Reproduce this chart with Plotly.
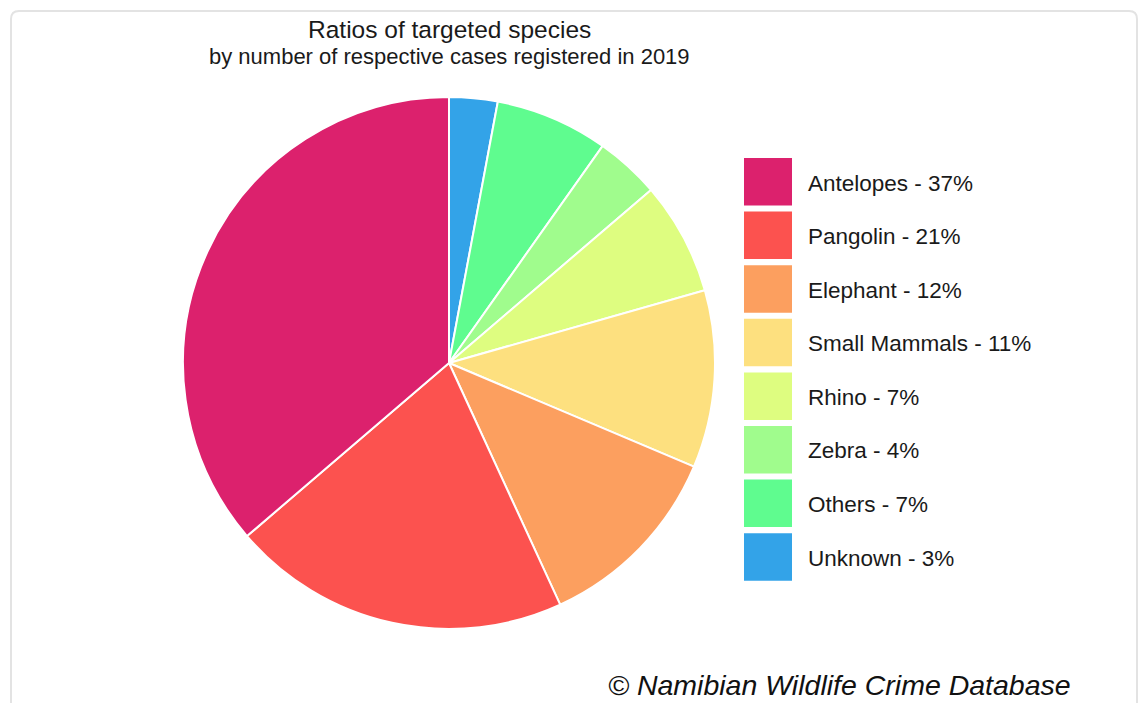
import plotly.graph_objects as go

W, H = 1138, 703

# Data (pie order: clockwise from 12 o'clock)
labels = ["Unknown", "Others", "Zebra", "Rhino", "Small Mammals", "Elephant", "Pangolin", "Antelopes"]
values = [3, 7, 4, 7, 11, 12, 21, 37]
colors = ["#33A3E8", "#5FFC8F", "#A0FC8D", "#DEFD80", "#FDE07F", "#FC9F5F", "#FC524F", "#DC216D"]

# Legend order (top to bottom)
legend_labels = ["Antelopes", "Pangolin", "Elephant", "Small Mammals", "Rhino", "Zebra", "Others", "Unknown"]
legend_pct = [37, 21, 12, 11, 7, 4, 7, 3]

FONT = "Liberation Sans, Arial, sans-serif"

def px(x):
    return x / W

def py(y):
    return 1 - y / H

cx, cy, r = 449, 363, 266

fig = go.Figure(go.Pie(
    labels=labels, values=values, sort=False, direction="clockwise", rotation=0,
    marker=dict(colors=colors, line=dict(color="white", width=2)),
    textinfo="none", hoverinfo="label+percent", showlegend=False,
    domain=dict(x=[px(cx - r), px(cx + r)], y=[py(cy + r), py(cy - r)]),
))

shapes = []
annotations = []

# Outer frame
shapes.append(dict(type="path", xref="paper", yref="paper",
                   path=f"M {px(11)},{py(720)} L {px(11)},{py(19)} Q {px(11)},{py(11)} {px(19)},{py(11)} "
                        f"L {px(1129)},{py(11)} Q {px(1137)},{py(11)} {px(1137)},{py(19)} L {px(1137)},{py(720)}",
                   line=dict(color="#e3e3e3", width=2)))

color_map = dict(zip(labels, colors))
y0 = 158
step = 53.6
for i, (lab, pc) in enumerate(zip(legend_labels, legend_pct)):
    top = y0 + i * step
    shapes.append(dict(type="rect", xref="paper", yref="paper",
                       x0=px(744), x1=px(792), y0=py(top + 47.5), y1=py(top),
                       fillcolor=color_map[lab], line=dict(width=0)))
    annotations.append(dict(xref="paper", yref="paper", x=px(805.5), y=py(top + 25),
                            xanchor="left", yanchor="middle", showarrow=False,
                            text=f"{lab} - {pc}%", font=dict(family=FONT, size=22.5, color="#1a1a1a")))

annotations.append(dict(xref="paper", yref="paper", x=px(449), y=py(30), xanchor="center", yanchor="middle",
                        showarrow=False, text="Ratios of targeted species",
                        font=dict(family=FONT, size=24.5, color="#1a1a1a")))
annotations.append(dict(xref="paper", yref="paper", x=px(449), y=py(56), xanchor="center", yanchor="middle",
                        showarrow=False, text="by number of respective cases registered in 2019",
                        font=dict(family=FONT, size=22, color="#1a1a1a")))
annotations.append(dict(xref="paper", yref="paper", x=px(605.5), y=py(685), xanchor="left", yanchor="middle",
                        showarrow=False, text="<i>© Namibian Wildlife Crime Database</i>",
                        font=dict(family=FONT, size=28.5, color="#111111")))

fig.update_layout(width=W, height=H, margin=dict(l=0, r=0, t=0, b=0),
                  paper_bgcolor="white", plot_bgcolor="white",
                  shapes=shapes, annotations=annotations, showlegend=False)

fig.write_html("out.html")
